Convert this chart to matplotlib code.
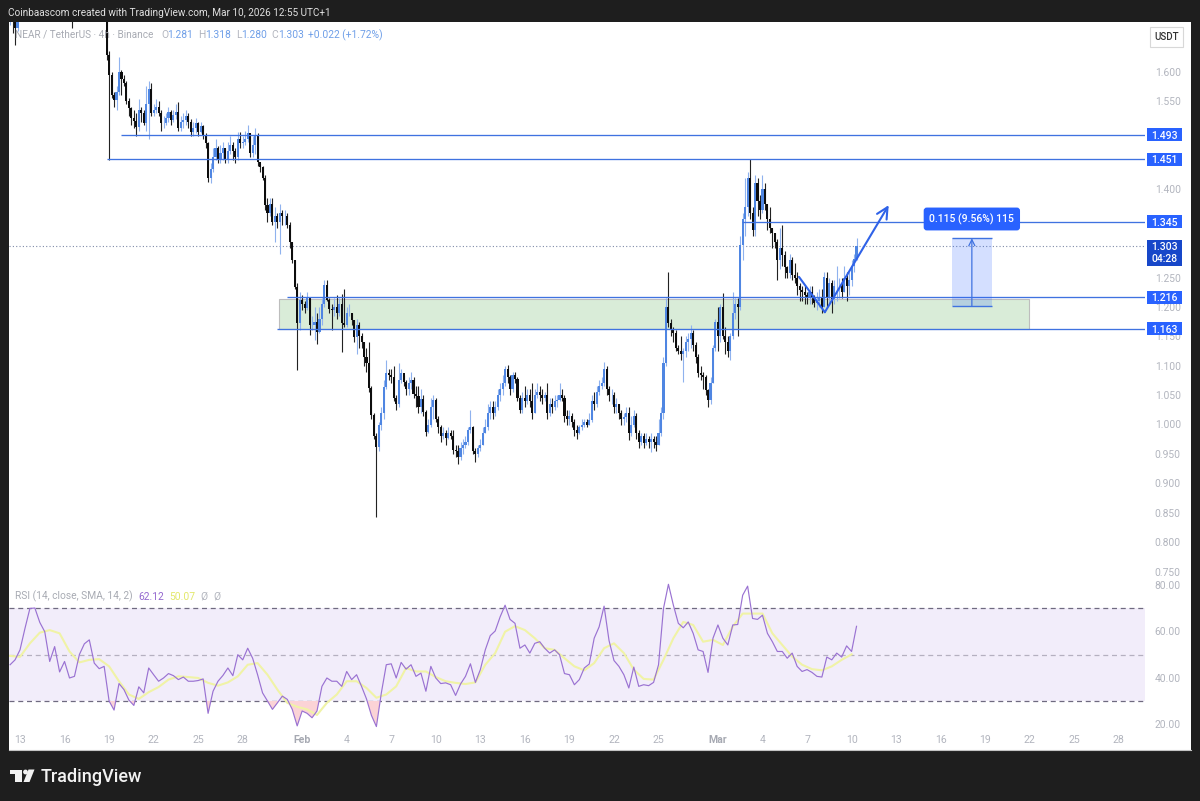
import matplotlib
matplotlib.use("Agg")
import matplotlib.pyplot as plt
from matplotlib.patches import Rectangle, Polygon, Circle
import numpy as np

plt.rcParams["font.family"] = ["Roboto", "DejaVu Sans"]

# 4h candles, the first one sits 4 bars before Jan 13
closes = [
    1.72,1.69,1.675,1.705,1.73,1.75,1.78,1.80,1.79,1.82,
    1.84,1.83,1.81,1.80,1.82,1.79,1.77,1.76,1.78,1.75,
    1.74,1.76,1.78,1.75,1.73,1.72,1.74,1.76,1.79,1.81,
    1.80,1.83,1.85,1.82,1.80,1.78,1.76,1.75,1.72,1.628,
    1.594,1.560,1.552,1.565,1.600,1.587,1.580,1.550,1.538,1.522,
    1.516,1.506,1.535,1.530,1.513,1.545,1.570,1.530,1.535,1.540,
    1.530,1.512,1.513,1.521,1.532,1.518,1.527,1.532,1.505,1.515,
    1.518,1.525,1.515,1.497,1.505,1.513,1.497,1.507,1.492,1.478,
    1.420,1.435,1.455,1.470,1.450,1.462,1.470,1.450,1.465,1.475,
    1.465,1.455,1.485,1.478,1.480,1.485,1.495,1.462,1.475,1.490,
    1.447,1.438,1.420,1.373,1.360,1.375,1.345,1.355,1.345,1.360,
    1.355,1.355,1.340,1.310,1.280,1.234,1.172,1.212,1.205,1.198,
    1.215,1.169,1.170,1.175,1.157,1.180,1.205,1.237,1.212,1.197,
    1.195,1.200,1.190,1.205,1.172,1.170,1.190,1.190,1.177,1.149,
    1.170,1.150,1.140,1.115,1.105,1.062,1.016,0.980,0.962,1.000,
    1.020,1.064,1.088,1.085,1.080,1.045,1.035,1.075,1.088,1.072,
    1.060,1.070,1.075,1.052,1.048,1.030,1.044,1.022,0.987,1.000,
    1.030,1.042,1.010,0.996,0.980,0.985,0.977,0.985,0.980,0.957,
    0.955,0.945,0.960,0.965,0.970,0.990,0.995,0.955,0.950,0.960,
    0.965,0.985,0.995,1.020,1.030,1.020,1.030,1.050,1.060,1.070,
    1.095,1.080,1.060,1.085,1.078,1.045,1.025,1.045,1.040,1.050,
    1.040,1.020,1.050,1.055,1.050,1.045,1.050,1.020,1.035,1.030,
    1.040,1.042,1.050,1.045,1.015,1.010,1.015,1.005,0.990,0.985,
    0.995,1.000,1.005,1.000,1.008,1.040,1.035,1.055,1.065,1.070,
    1.095,1.060,1.050,1.050,1.030,1.035,1.020,1.010,1.012,1.020,
    0.985,1.000,1.015,0.985,0.970,0.980,0.968,0.975,0.970,0.975,
    0.970,0.965,0.985,1.020,1.105,1.200,1.173,1.160,1.155,1.130,
    1.125,1.120,1.125,1.140,1.145,1.155,1.135,1.115,1.087,1.085,
    1.080,1.059,1.042,1.070,1.130,1.175,1.150,1.200,1.150,1.140,
    1.125,1.150,1.190,1.205,1.200,1.305,1.350,1.370,1.420,1.360,
    1.330,1.410,1.380,1.365,1.400,1.375,1.350,1.335,1.325,1.310,
    1.280,1.300,1.288,1.268,1.258,1.280,1.255,1.250,1.235,1.229,
    1.225,1.220,1.217,1.225,1.215,1.207,1.210,1.215,1.200,1.250,
    1.215,1.240,1.213,1.235,1.235,1.235,1.225,1.250,1.235,1.245,
    1.270,1.281,1.303,
]
highs = [
    1.75,1.73,1.70,1.73,1.76,1.78,1.81,1.83,1.82,1.85,
    1.87,1.86,1.84,1.83,1.85,1.83,1.80,1.79,1.80,1.79,
    1.77,1.78,1.80,1.79,1.76,1.75,1.76,1.78,1.81,1.83,
    1.83,1.85,1.87,1.86,1.83,1.81,1.79,1.78,1.76,1.73,
    1.635,1.60,1.565,1.575,1.625,1.603,1.595,1.585,1.555,1.54,
    1.535,1.53,1.553,1.54,1.535,1.575,1.585,1.58,1.545,1.553,
    1.55,1.535,1.525,1.53,1.54,1.535,1.535,1.545,1.548,1.525,
    1.53,1.535,1.53,1.52,1.515,1.522,1.515,1.515,1.51,1.495,
    1.48,1.445,1.47,1.485,1.473,1.475,1.48,1.47,1.48,1.49,
    1.48,1.47,1.498,1.497,1.49,1.50,1.51,1.495,1.49,1.505,
    1.495,1.445,1.44,1.425,1.385,1.385,1.385,1.37,1.36,1.375,
    1.365,1.365,1.36,1.345,1.31,1.28,1.24,1.225,1.22,1.21,
    1.225,1.215,1.185,1.20,1.19,1.20,1.215,1.245,1.245,1.215,
    1.205,1.215,1.22,1.215,1.222,1.23,1.20,1.205,1.19,1.178,
    1.18,1.175,1.155,1.14,1.13,1.14,1.065,1.02,0.985,1.005,
    1.03,1.075,1.11,1.095,1.095,1.10,1.05,1.105,1.095,1.085,
    1.075,1.08,1.09,1.08,1.065,1.065,1.06,1.05,1.025,1.01,
    1.045,1.05,1.045,1.015,1.00,0.995,0.99,0.995,0.99,0.99,
    0.965,0.965,0.97,0.975,0.98,0.995,1.025,0.997,0.96,0.965,
    0.975,0.995,1.01,1.035,1.04,1.04,1.04,1.06,1.07,1.085,
    1.10,1.101,1.085,1.09,1.09,1.08,1.05,1.055,1.065,1.06,
    1.06,1.07,1.06,1.07,1.065,1.06,1.055,1.07,1.045,1.045,
    1.05,1.05,1.07,1.06,1.05,1.025,1.025,1.02,1.01,1.00,
    1.0,1.01,1.01,1.01,1.02,1.05,1.055,1.065,1.075,1.08,
    1.106,1.10,1.065,1.06,1.055,1.045,1.035,1.025,1.02,1.03,
    1.03,1.015,1.025,1.02,0.99,0.985,0.985,0.985,0.98,0.985,
    0.98,0.98,1.01,1.03,1.115,1.215,1.259,1.18,1.165,1.16,
    1.135,1.15,1.13,1.15,1.155,1.17,1.16,1.14,1.12,1.10,
    1.09,1.085,1.06,1.08,1.135,1.18,1.20,1.205,1.223,1.165,
    1.15,1.155,1.225,1.215,1.215,1.32,1.36,1.42,1.43,1.451,
    1.37,1.425,1.42,1.39,1.425,1.41,1.375,1.37,1.335,1.325,
    1.315,1.335,1.34,1.295,1.27,1.29,1.285,1.275,1.26,1.24,
    1.235,1.235,1.225,1.235,1.235,1.22,1.225,1.23,1.23,1.26,
    1.26,1.25,1.245,1.245,1.27,1.25,1.25,1.27,1.26,1.26,
    1.28,1.29,1.318,
]
lows = [
    1.68,1.666,1.645,1.67,1.70,1.72,1.74,1.77,1.76,1.78,
    1.80,1.80,1.78,1.77,1.79,1.76,1.74,1.74,1.75,1.72,
    1.71,1.73,1.75,1.72,1.70,1.674,1.71,1.73,1.75,1.78,
    1.77,1.80,1.82,1.79,1.77,1.75,1.73,1.71,1.70,1.62,
    1.45,1.555,1.54,1.535,1.56,1.56,1.575,1.545,1.525,1.51,
    1.505,1.49,1.50,1.515,1.51,1.50,1.485,1.525,1.525,1.53,
    1.525,1.50,1.505,1.51,1.515,1.51,1.515,1.52,1.50,1.50,
    1.505,1.51,1.505,1.49,1.49,1.495,1.49,1.495,1.485,1.47,
    1.412,1.41,1.43,1.45,1.445,1.445,1.45,1.445,1.445,1.46,
    1.45,1.445,1.45,1.47,1.47,1.475,1.48,1.455,1.455,1.46,
    1.44,1.43,1.415,1.365,1.345,1.355,1.34,1.31,1.335,1.29,
    1.34,1.34,1.335,1.30,1.275,1.23,1.093,1.16,1.195,1.19,
    1.195,1.152,1.16,1.144,1.137,1.155,1.17,1.20,1.21,1.19,
    1.16,1.185,1.18,1.185,1.123,1.165,1.165,1.185,1.17,1.14,
    1.12,1.13,1.13,1.10,1.09,1.055,1.01,0.975,0.843,0.955,
    0.99,1.01,1.06,1.075,1.07,1.04,1.025,1.03,1.07,1.065,
    1.05,1.05,1.06,1.045,1.03,1.02,1.02,1.015,0.98,0.985,
    0.995,1.01,1.005,0.985,0.97,0.975,0.965,0.975,0.975,0.95,
    0.945,0.932,0.94,0.95,0.96,0.965,0.985,0.95,0.936,0.945,
    0.955,0.965,0.985,0.99,1.01,1.01,1.015,1.025,1.04,1.05,
    1.065,1.07,1.05,1.055,1.07,1.04,1.02,1.02,1.03,1.035,
    1.03,1.01,1.02,1.045,1.04,1.035,1.04,1.01,1.015,1.02,
    1.025,1.03,1.04,1.04,1.005,1.0,1.0,0.995,0.98,0.975,
    0.983,0.99,0.995,0.995,1.0,1.005,1.025,1.03,1.05,1.06,
    1.065,1.05,1.04,1.035,1.02,1.02,1.01,1.0,1.0,1.005,
    0.974,0.98,0.995,0.975,0.96,0.965,0.96,0.965,0.96,0.953,
    0.96,0.955,0.965,0.98,1.01,1.10,1.165,1.15,1.14,1.125,
    1.12,1.11,1.072,1.115,1.125,1.13,1.125,1.105,1.08,1.075,
    1.06,1.05,1.03,1.035,1.07,1.125,1.125,1.14,1.145,1.12,
    1.115,1.11,1.145,1.18,1.15,1.195,1.28,1.32,1.355,1.35,
    1.32,1.32,1.355,1.35,1.36,1.365,1.33,1.325,1.30,1.30,
    1.245,1.265,1.27,1.25,1.25,1.25,1.245,1.24,1.22,1.21,
    1.21,1.205,1.205,1.205,1.205,1.20,1.195,1.20,1.19,1.20,
    1.20,1.205,1.19,1.205,1.21,1.215,1.215,1.225,1.21,1.22,
    1.235,1.26,1.28,
]

# rsi is read every 2 bars, its signal every 4 bars
rsi = [
    45.6,47.7,52,61.2,69.8,70,63.8,59.8,47,53.4,42.5,47,39.9,40.6,50,54.6,56.3,46.3,43.9,44.9,
    30,26.1,37.5,34.9,30.4,28.1,36.1,33.5,44.2,41.3,38.5,39.9,41.8,40.9,39.2,40.3,38.5,38.5,38.8,39.5,
    24.7,34.2,38.5,41,44.2,40.9,49.9,47.7,52.7,48.4,41.3,33.5,30,26.4,29.2,32.1,30.7,26.4,19.3,25.7,
    24.7,22.8,25.7,36.3,39.9,38.5,38.5,36.3,42.7,39.2,41.3,36.3,30.9,23.8,19,33.5,45.6,46,39.9,46.6,
    43.7,45.6,40.6,42,34.2,44.9,39.9,37.5,37.8,37,32.4,37.3,40.6,46,38,43.5,52,58.1,60.1,66.2,
    71.2,65.1,63.4,52.7,54.1,50.6,54.8,55.5,52.7,50.6,52,49.9,41.8,41.3,37,39.2,44.2,45.9,57,61.9,
    70.8,56,47.4,44.9,41.3,35.6,44.6,36.3,37,36.6,38,45.6,69.8,80.2,71.2,63.4,61.5,64,59.1,52,
    51.3,42.3,57,62.7,57,54.1,62.7,62.9,75.5,79.4,65.5,65.1,66.9,59.1,55.5,51.3,51.3,48.4,50.6,44.9,
    42.7,43.5,42.3,40.6,40.3,48.9,47.7,50.6,48.9,53.7,51.3,62.12,
]
rsi_signal = [
    49.4,49,54.8,59.4,60.5,59.1,51.3,46.6,47.7,48,44.9,38.5,32.8,30.9,33.8,36,39.2,40.6,40.3,39.9,
    37.8,36.6,38,40.6,45.6,46.3,41.3,34.9,29.2,27.5,26.4,24,29.2,32.8,38.5,38.5,35.6,31.4,32.8,36.3,
    44.2,42.7,42.7,40.3,38.5,37.8,37.3,38,45.6,50.6,59.8,62.2,60.5,57,52.7,52,48.4,44.9,43.2,46.3,
    52.7,54.8,50.6,43.5,39.5,39.2,47.7,57,64,62.7,55.5,56.3,54.1,62,67.6,67.6,67.6,59.1,54.1,49.1,
    45.6,43.7,43.2,44.9,47.7,50.07,
]

# 1.50, 1.45, 1.35 and 1.30 sit right behind the blue tags
price_ticks = [1.60,1.55,1.40,1.25,1.20,1.15,1.10,1.05,1.00,0.95,0.90,0.85,0.80,0.75]
rsi_ticks = [80,60,40,20]
day_ticks = [0,3,6,9,12,15,19,22,25,28,31,34,37,40,43,47,50,53,56,59,62,65,68,71,74]
day_labels = ["13","16","19","22","25","28","Feb","4","7","10","13","16","19","22","25","Mar","4","7","10","13","16","19","22","25","28"]

# drawn levels: price and the day each line starts on
level_prices = [1.493,1.451,1.345,1.216,1.163]
level_starts = [6.80,5.86,48.6,18.0,17.3]
zone_days = [17.44,67.95]
zone_prices = [1.163,1.214]
measure_days = [62.75,65.45]
measure_prices = [1.2018,1.3167]
swing_days = [52.46,54.2,58.5]
swing_prices = [1.251,1.191,1.373]
last_price = 1.303

W, H = 1200, 801
BLUE = "#2962ff"
UP = "#4f86e2"
GREY = "#b2b5be"


def box(x0, y0, x1, y1):
    # pixel box from the top left corner to figure fractions
    return [x0 / W, 1 - y1 / H, (x1 - x0) / W, (y1 - y0) / H]


fig = plt.figure(figsize=(12, 8.01), dpi=100, facecolor="#1e1e1e")

panel = fig.add_axes(box(9, 22, 1191, 750), facecolor="white", zorder=0)
panel.set_xticks([])
panel.set_yticks([])
for s in panel.spines.values():
    s.set_visible(False)
panel.spines["bottom"].set_visible(True)
panel.spines["bottom"].set_color("#c4c4c4")

ax = fig.add_axes(box(9, 22, 1145, 582), facecolor="none", zorder=2)
ax_rsi = fig.add_axes(box(9, 582, 1145, 728), facecolor="none", zorder=1, sharex=ax)
xlim = (-0.741, 75.76)

# candles
closes = np.array(closes)
highs = np.array(highs)
lows = np.array(lows)
opens = np.r_[closes[0], closes[:-1]]
days = (np.arange(len(closes)) - 4) / 6
up = closes >= opens
ax.vlines(days[up], lows[up], highs[up], color="#8fb2ee", lw=0.8, zorder=3)
ax.vlines(days[~up], lows[~up], highs[~up], color="#222222", lw=0.8, zorder=3)
ax.bar(days[up], (closes - opens)[up], bottom=opens[up], width=0.14, color=UP, lw=0, zorder=4)
ax.bar(days[~up], (opens - closes)[~up], bottom=closes[~up], width=0.14, color="#0d0d0d", lw=0, zorder=4)

# zone and levels
ax.add_patch(Rectangle((zone_days[0], zone_prices[0]), zone_days[1] - zone_days[0], zone_prices[1] - zone_prices[0],
                       facecolor="#d9ecd8", edgecolor="#bdbdbd", lw=0.8, zorder=2))
ax.hlines(level_prices, level_starts, xlim[1], color="#3f72e0", lw=0.95, zorder=5)
ax.axhline(last_price, color="#7f8aa8", lw=0.8, ls=(0, (1, 2)), zorder=1)

# price range tool
ax.add_patch(Rectangle((measure_days[0], measure_prices[0]), measure_days[1] - measure_days[0],
                       measure_prices[1] - measure_prices[0], facecolor="#2962ff", alpha=0.2, lw=0, zorder=5))
ax.hlines(measure_prices, measure_days[0], measure_days[1], color="#3f72e0", lw=1, zorder=6)
ax.annotate("", xy=(sum(measure_days) / 2, measure_prices[1]), xytext=(sum(measure_days) / 2, measure_prices[0]),
            arrowprops=dict(arrowstyle="->", color="#3f72e0", lw=0.9, shrinkA=0, shrinkB=0, mutation_scale=11), zorder=6)
ax.text(sum(measure_days) / 2, 1.3495, "0.115 (9.56%) 115", color="white", fontsize=7.5, fontweight="medium",
        ha="center", va="center", zorder=8,
        bbox=dict(boxstyle="round,pad=0.55,rounding_size=0.3", facecolor=BLUE, edgecolor="none"))

# hand drawn swing with arrow
ax.plot(swing_days[:2], swing_prices[:2], color="#2f62e8", lw=1.5, zorder=7, solid_capstyle="round")
ax.annotate("", xy=(swing_days[2], swing_prices[2]), xytext=(swing_days[1], swing_prices[1]),
            arrowprops=dict(arrowstyle="->", color="#2f62e8", lw=1.5, shrinkA=0, shrinkB=0, mutation_scale=20), zorder=7)

ax.set_xlim(*xlim)
ax.set_ylim(1 + (424.5 - 582) / 588, 1 + (424.5 - 22) / 588)
ax.yaxis.tick_right()
ax.set_yticks(price_ticks)
ax.set_yticklabels([f"{p:.3f}" for p in price_ticks])
ax.tick_params(axis="y", length=0, pad=7, labelcolor=GREY, labelsize=7.4)
ax.tick_params(axis="x", length=0, labelbottom=False)
for s in ax.spines.values():
    s.set_visible(False)

# axis tags, 35 px wide with a 13.5 px tall box
tag_left = 1.0018
tag_width = 0.0308
tag_height = 13.5 / 588
tag_x = tag_left + tag_width / 2
tr = ax.get_yaxis_transform()
for p in level_prices:
    ax.add_patch(Rectangle((tag_left, p - tag_height / 2), tag_width, tag_height, transform=tr, facecolor=BLUE, lw=0,
                           clip_on=False, zorder=8))
    ax.text(tag_x, p, f"{p:.3f}", transform=tr, color="white", fontsize=7.5, fontweight="medium",
            ha="center", va="center_baseline", clip_on=False, zorder=9)
ax.add_patch(Rectangle((tag_left, 1.2696), tag_width, 0.0442, transform=tr, facecolor="#1747c9", lw=0,
                       clip_on=False, zorder=8))
ax.text(tag_x, 1.2917, f"{last_price:.3f}\n04:28", transform=tr, color="white",
        fontsize=7.5, fontweight="medium", ha="center", va="center", linespacing=1.2, clip_on=False, zorder=9)

# rsi pane
rsi = np.array(rsi)
rsi_x = (np.arange(len(rsi)) * 2 - 4) / 6
signal_x = (np.arange(len(rsi_signal)) * 4 - 4) / 6
ax_rsi.axhspan(30, 70, color="#f2edfa", lw=0, zorder=1)
for level, col in zip([70, 50, 30], ["#6f6a80", "#b5b0c0", "#6f6a80"]):
    ax_rsi.axhline(level, color=col, lw=0.9, ls=(0, (4, 3)), zorder=2)
ax_rsi.fill_between(rsi_x, rsi, 30, where=rsi < 30, interpolate=True, color="#fbd3d6", lw=0, zorder=2)
ax_rsi.plot(signal_x, rsi_signal, color="#f0f3a6", lw=1.5, zorder=3)
ax_rsi.plot(rsi_x, rsi, color="#9a72d2", lw=0.85, zorder=4)
ax_rsi.set_ylim(50 + (654.5 - 728) / 2.325, 50 + (654.5 - 582) / 2.325)
ax_rsi.yaxis.tick_right()
ax_rsi.set_yticks(rsi_ticks)
ax_rsi.set_yticklabels([f"{v:.2f}" for v in rsi_ticks])
ax_rsi.tick_params(axis="y", length=0, pad=7, labelcolor=GREY, labelsize=7.4)
ax_rsi.set_xticks(day_ticks)
ax_rsi.set_xticklabels(day_labels)
ax_rsi.tick_params(axis="x", length=0, pad=5, labelcolor=GREY, labelsize=7.6)
for lab in ax_rsi.get_xticklabels():
    if lab.get_text() in ("Feb", "Mar"):
        lab.set_fontweight("bold")
        lab.set_color("#a6a9b2")
for s in ax_rsi.spines.values():
    s.set_visible(False)

# page furniture, placed in pixels
top = fig.add_axes([0, 0, 1, 1], facecolor="none", zorder=5)
top.set_xlim(0, W)
top.set_ylim(H, 0)
top.axis("off")

top.text(8, 12.5, "Coinbaascom created with TradingView.com, Mar 10, 2026 12:55 UTC+1", color="#e0e0e0", fontsize=7.2, va="center")
top.text(15, 35, "NEAR / TetherUS · 4h · Binance", color="#a8abb3", fontsize=7.2, va="center")
for x, t, c in [(161, "O", GREY), (167, "1.281", "#6f9fe8"), (198, "H", GREY), (205, "1.318", "#6f9fe8"),
                (236, "L", GREY), (241, "1.280", "#6f9fe8"), (271, "C", GREY), (278, "1.303", "#6f9fe8"),
                (308, "+0.022 (+1.72%)", "#6f9fe8")]:
    top.text(x, 35, t, color=c, fontsize=7.4, va="center")
top.text(15, 596.5, "RSI (14, close, SMA, 14, 2)", color="#a8abb3", fontsize=7.4, va="center")
for x, t, c in [(138, "62.12", "#9468cf"), (169, "50.07", "#e3e86a"), (200, "Ø", GREY), (213, "Ø", GREY)]:
    top.text(x, 596.5, t, color=c, fontsize=7.4, va="center")

top.add_patch(Rectangle((1150, 27), 33, 20, facecolor="white", edgecolor="#d8d8d8", lw=0.8))
top.text(1166.5, 37, "USDT", color="#333333", fontsize=7, ha="center", va="center", fontweight="medium")

# TradingView mark
top.add_patch(Polygon([(10, 769.5), (22, 769.5), (22, 782), (15, 782), (15, 774), (10, 774)], facecolor="#f2f2f2", lw=0))
top.add_patch(Circle((25.5, 772), 2.4, facecolor="#f2f2f2", lw=0))
top.add_patch(Polygon([(28.5, 769.5), (34.5, 769.5), (29.5, 782), (23.5, 782)], facecolor="#f2f2f2", lw=0))
top.text(41, 776.5, "TradingView", color="#f2f2f2", fontsize=13, va="center", fontweight="medium")

fig.savefig("out.png", dpi=100, facecolor=fig.get_facecolor())
